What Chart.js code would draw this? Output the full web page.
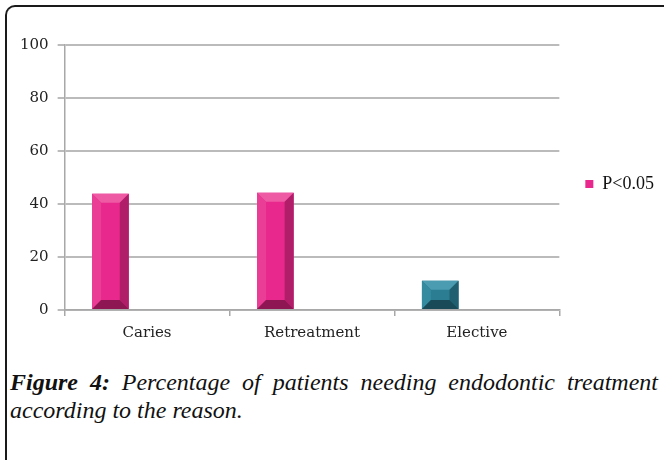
<!DOCTYPE html>
<html>
<head>
<meta charset="utf-8">
<script src="https://cdn.jsdelivr.net/npm/chart.js@4.4.1/dist/chart.umd.min.js"></script>
<style>
  html, body { margin: 0; padding: 0; background: #fff; overflow: hidden; }
  body { width: 664px; height: 460px; position: relative; }
  .frame {
    position: absolute; left: 5px; top: 5px; width: 659px; height: 460px;
    border-top: 2px solid #1a1a1a; border-left: 2px solid #1a1a1a;
    border-top-left-radius: 10px; box-sizing: border-box;
  }
  #wrap { position: absolute; left: 0; top: 0; width: 664px; height: 350px; }
  .caption {
    position: absolute; left: 10px; top: 368px; width: 648px;
    font-family: "Liberation Serif", serif; font-style: italic; font-size: 24px;
    line-height: 28px; color: #111; text-align: justify;
  }
  .caption b { font-weight: bold; }
</style>
</head>
<body>
<div class="frame"></div>
<div id="wrap"><canvas id="bar-chart"></canvas></div>
<div class="caption"><b>Figure 4:</b> Percentage of patients needing endodontic treatment according to the reason.</div>
<script>
const categories = ["Caries", "Retreatment", "Elective"];
const seriesName = "P<0.05";
const seriesValues = [43.9, 44.2, 11.0];
const yTicks = [0, 20, 40, 60, 80, 100];

// per-bar colours: face, top, right, bottom, left
const faces = ["#e8288c", "#e8288c", "#2b7d91"];
const shades = [
  { top: "#ee5aa3", right: "#b01d69", bottom: "#8e1653", left: "#ea3d96" },
  { top: "#ee5aa3", right: "#b01d69", bottom: "#8e1653", left: "#ea3d96" },
  { top: "#4b9cb0", right: "#1f5f70", bottom: "#184a57", left: "#348a9e" }
];

function poly(ctx, pts, color) {
  ctx.beginPath();
  ctx.moveTo(pts[0][0], pts[0][1]);
  for (let i = 1; i < pts.length; i++) ctx.lineTo(pts[i][0], pts[i][1]);
  ctx.closePath();
  ctx.fillStyle = color;
  ctx.fill();
}

const bevel = {
  id: 'bevel',
  afterDatasetDraw(chart, args) {
    if (args.index !== 0) return;
    const ctx = chart.ctx;
    args.meta.data.forEach((bar, i) => {
      const p = bar.getProps(['x', 'y', 'base', 'width'], true);
      const l = p.x - p.width / 2, r = p.x + p.width / 2, t = p.y, b = p.base;
      const d = Math.min(9, (b - t) / 3);
      const s = shades[i];
      ctx.save();
      poly(ctx, [[l, t], [r, t], [r - d, t + d], [l + d, t + d]], s.top);
      poly(ctx, [[l, t], [l + d, t + d], [l + d, b - d], [l, b]], s.left);
      poly(ctx, [[r, t], [r, b], [r - d, b - d], [r - d, t + d]], s.right);
      poly(ctx, [[l, b], [r, b], [r - d, b - d], [l + d, b - d]], s.bottom);
      ctx.restore();
    });
  }
};

new Chart(document.getElementById("bar-chart"), {
  type: 'bar',
  data: {
    labels: categories,
    datasets: [
      {
        label: seriesName,
        data: seriesValues,
        backgroundColor: faces,
        borderWidth: 0
      },
      { label: "", data: [null, null, null] },
      { label: "", data: [null, null, null] }
    ]
  },
  options: {
    responsive: true,
    maintainAspectRatio: false,
    animation: false,
    categoryPercentage: 3 / 4.5,
    barPercentage: 1,
    layout: { padding: { top: 45, left: 11, right: 0, bottom: 0 } },
    plugins: {
      tooltip: { enabled: false },
      legend: {
        position: 'right',
        align: 'start',
        // empty title used only as a spacer to push the key down
        title: { display: true, text: ' ', font: { size: 10 }, padding: { top: 113, bottom: 0 } },
        labels: {
          boxWidth: 8,
          boxHeight: 8,
          padding: 5,
          color: "#111",
          font: { family: "Liberation Serif", size: 18 },
          filter: item => item.text !== ""
        }
      }
    },
    scales: {
      x: {
        grid: { offset: true, drawOnChartArea: false, tickLength: 6, color: "#a8a8a8", lineWidth: 1.5 },
        border: { color: "#a8a8a8", width: 1.5 },
        ticks: { color: "#222", padding: 8, font: { family: "DejaVu Serif", size: 15 } }
      },
      y: {
        min: 0,
        max: 100,
        afterBuildTicks: s => { s.ticks = yTicks.map(v => ({ value: v })); },
        grid: { color: "#bbbbbb", lineWidth: 2, tickLength: 7 },
        border: { color: "#a8a8a8", width: 1.5 },
        ticks: { color: "#222", padding: 9, font: { family: "DejaVu Serif", size: 15 } }
      },
      gap: {
        position: 'right',
        display: true,
        afterFit: s => { s.width = 21; },
        grid: { drawOnChartArea: false, drawTicks: false },
        border: { display: false },
        ticks: { display: false }
      }
    }
  },
  plugins: [bevel]
});
</script>
</body>
</html>
